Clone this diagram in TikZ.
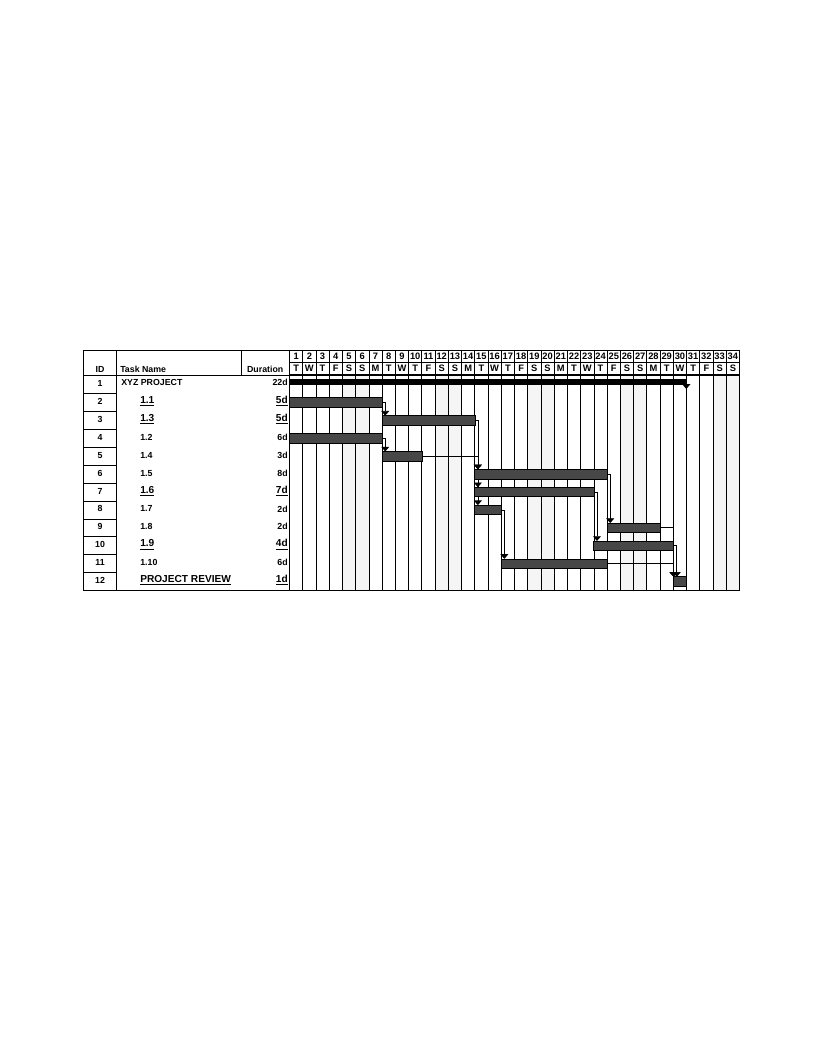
\documentclass[tikz,border=0pt]{standalone}
\usepackage{fontspec}
\setmainfont{Liberation Sans}
\usetikzlibrary{arrows.meta,fit}

\begin{document}
\begin{tikzpicture}[x=0.75pt,y=-0.75pt,>={Triangle[width=6pt,length=3.5pt]},
  every node/.style={font=\bfseries\fontsize{6.6}{7}\selectfont,inner sep=0pt},
  big/.style={font=\bfseries\fontsize{7.6}{8}\selectfont},
  daytext/.style={font=\bfseries\fontsize{7}{7}\selectfont},
  grid/.style={line width=0.6pt},
  frame/.style={line width=0.9pt},
  bar/.style={fill=black!72,draw=black,line width=0.5pt},
  link/.style={->,line width=0.5pt}]
\useasboundingbox (0,0) rectangle (816,1056);

% weekends
\foreach \d in {5,6,12,13,19,20,26,27,33,34}
  \fill[black!4] ({289.5+13.235*(\d-1)},375.7) rectangle ({289.5+13.235*\d},590.5);

% header
\draw[frame] (83.3,350.5) rectangle (289.5,375.7);
\draw[grid] (116.7,350.5)--(116.7,590.5) (241,350.5)--(241,375.7);
\node (hid) at (100,369) {ID};
\node[anchor=west] (hname) at (120,369) {Task Name};
\node (hdur) at (265.2,369) {Duration};

\draw[frame] (289.5,350.5) rectangle (739.5,374.5);
\draw[grid] (289.5,362.2)--(739.5,362.2);
\foreach \d/\dtext in {1/T,2/W,3/T,4/F,5/S,6/S,7/M,8/T,9/W,10/T,11/F,12/S,13/S,14/M,
  15/T,16/W,17/T,18/F,19/S,20/S,21/M,22/T,23/W,24/T,25/F,26/S,27/S,28/M,29/T,30/W,
  31/T,32/F,33/S,34/S}
{
    \node[daytext] (num\d) at ({289.5+13.235*(\d-0.5)},356.6) {\d};
    \node[daytext] (day\d) at ({289.5+13.235*(\d-0.5)},368.4) {\dtext};
    \draw[grid] ({289.5+13.235*\d},350.5)--({289.5+13.235*\d},590.5);
}

% table body
\draw[frame] (83.3,375.7) rectangle (739.5,590.5);
\draw[grid] (289.5,350.5)--(289.5,590.5);
\foreach \r in {1,...,11}
  \draw[grid] (83.3,{375.7+17.9*\r})--(116.7,{375.7+17.9*\r});
\foreach \r in {1,...,12}
  \node (id\r) at (100,{365.7+17.9*\r}) {\r};

\node[anchor=west] (n1) at (121,382.6) {XYZ PROJECT};
\node[anchor=east] (d1) at (288,382.6) {22d};
\foreach \r/\rtext/\rdur in {4/1.2/6d,5/1.4/3d,6/1.5/8d,8/1.7/2d,9/1.8/2d,11/1.10/6d}
{
    \node[anchor=west] (n\r) at (140,{365.7+17.9*\r}) {\rtext};
    \node[anchor=east] (d\r) at (288,{365.7+17.9*\r}) {\rdur};
}
\foreach \r/\rtext/\rdur in {2/1.1/5d,3/1.3/5d,7/1.6/7d,10/1.9/4d,12/PROJECT REVIEW/1d}
{
    \node[big,anchor=west] (n\r) at (140,{365.7+17.9*\r}) {\underline{\rtext}};
    \node[big,anchor=east] (d\r) at (288,{365.7+17.9*\r}) {\underline{\rdur}};
}

% bars
\node[fit={(289.5,378.5) (686.5,384.5)},fill=black] (b1) {};
\fill (682,384) -- (690.5,384) -- (686.3,389) -- cycle;
\foreach \r/\s/\e in {2/1/7,3/8/14,4/1/7,5/8/10,6/15/24,7/15/23,8/15/16,
  9/25/28,10/24/29,11/17/24,12/30/30}
{
    \node[fit={({289.5+13.235*(\s-1)},{362.2+17.9*\r}) ({289.5+13.235*\e},{371.2+17.9*\r})}] (b\r) {};
}

% links
\foreach \a/\b/\s in {2/3/2.5,4/5/2.5,3/6/2.5,3/7/2.5,3/8/2.5,5/6/2.5,6/9/2.5,
  7/10/2.5,8/11/2.5,9/12/0.3,11/12/0.3,10/12/2.8}
{
    \draw[link] (b\a.east) -| ([xshift=\s pt]b\b.north west);
}

\foreach \r in {2,...,12}
  \draw[bar] (b\r.south west) rectangle (b\r.north east);
\end{tikzpicture}
\end{document}
